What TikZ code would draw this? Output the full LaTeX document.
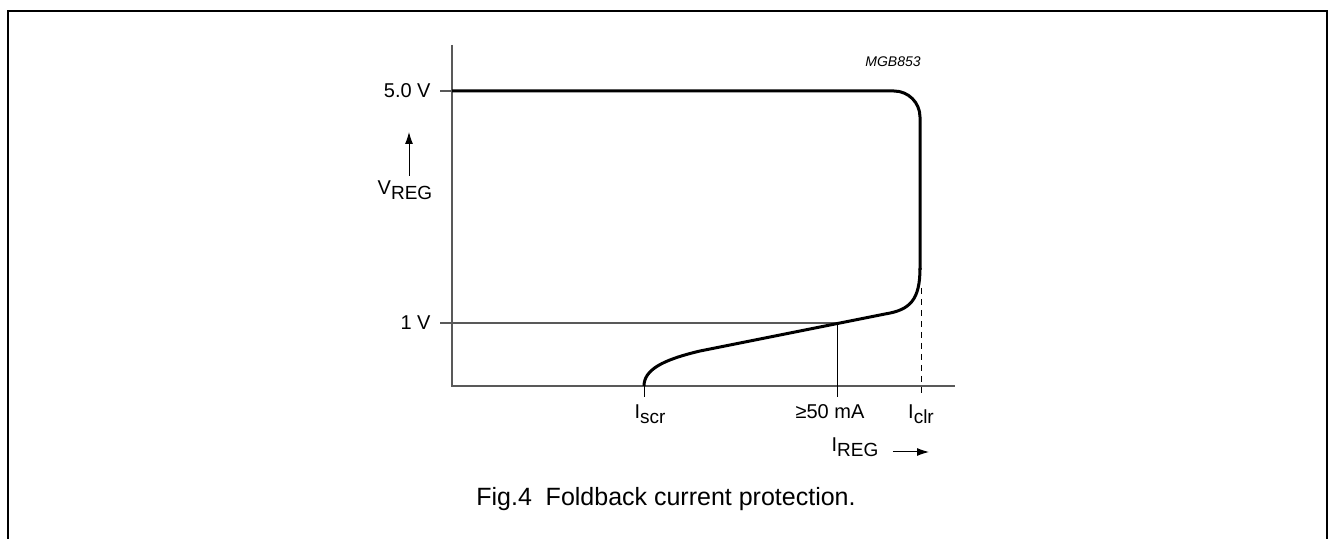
\documentclass[tikz,border=0pt]{standalone}
\usepackage{fontspec}
\setmainfont{Liberation Sans}
\usetikzlibrary{arrows.meta}

\newcommand{\lowsub}[1]{\raisebox{-0.5ex}{\fontsize{9.5}{10}\selectfont #1}}

\tikzset{
  axisline/.style={black!65, line width=0.6pt},
  thinline/.style={line width=0.5pt},
  curveline/.style={line width=1.5pt},
  lbl/.style={font=\fontsize{10}{11}\selectfont, inner sep=0pt},
  arrowline/.style={line width=0.5pt, -{Latex[length=6pt, width=4pt]}},
}

\begin{document}
\begin{tikzpicture}[x=0.5pt, y=-0.5pt]
  \useasboundingbox (0,0) rectangle (1329,539);
  % frame, open at the bottom
  \draw[line width=1pt] (8,539) -- (8,11) -- (1327,11) -- (1327,539);

  % axes
  \coordinate (ytop) at (452,45);
  \coordinate (orig) at (452,386);
  \coordinate (xend) at (955,386);
  \draw[axisline] (ytop) -- (orig) -- (xend);

  % ticks and guide lines
  \coordinate (t5) at (440,91);
  \coordinate (t1) at (440,323);
  \coordinate (p50) at (837,323);
  \coordinate (b50) at (837,397);
  \coordinate (tscr) at (644,386);
  \coordinate (bscr) at (644,397);
  \coordinate (tclr) at (921,288);
  \coordinate (bclr) at (921,397);
  \draw[axisline] (t5) -- (452,91);
  \draw[axisline] (t1) -- (p50);
  \draw[thinline] (p50) -- (b50);
  \draw[thinline] (tscr) -- (bscr);
  \draw[thinline, dash pattern=on 3pt off 2.5pt] (tclr) -- (bclr);

  % foldback curve
  \draw[curveline, rounded corners=13pt] (452,91) -- (920,91) -- (920,270);
  \draw[curveline] (920,268) .. controls (920,300) and (910,310) .. (885,314)
    -- (700,351) .. controls (662,360) and (644,370) .. (tscr);

  % labels
  \node[lbl, anchor=east] (v5) at (431,91) {5.0 V};
  \node[lbl, anchor=east] (v1) at (431,323) {1 V};
  \node[lbl] (vreg) at (405,190) {V\lowsub{REG}};
  \coordinate (vtip) at (409,132);
  \draw[arrowline] (vreg.north -| vtip) ++(0,-4) -- (vtip);
  \node[lbl, anchor=north] (iscr) at (650,404) {I\lowsub{scr}};
  \node[lbl, anchor=north] (i50) at (830,404) {≥50 mA};
  \node[lbl, anchor=north] (iclr) at (921,404) {I\lowsub{clr}};
  \node[lbl] (ireg) at (855,447) {I\lowsub{REG}};
  \coordinate (htip) at (929,452);
  \draw[arrowline] (ireg.east |- htip) ++(14,0) -- (htip);
  \node[font=\fontsize{7}{8}\selectfont\itshape, inner sep=0pt] (code) at (893,62) {MGB853};

  % caption
  \node[font=\fontsize{12.5}{14}\selectfont, inner sep=0pt] (cap) at (666,499)
    {Fig.4\hspace{0.55em}Foldback current protection.};
\end{tikzpicture}
\end{document}
